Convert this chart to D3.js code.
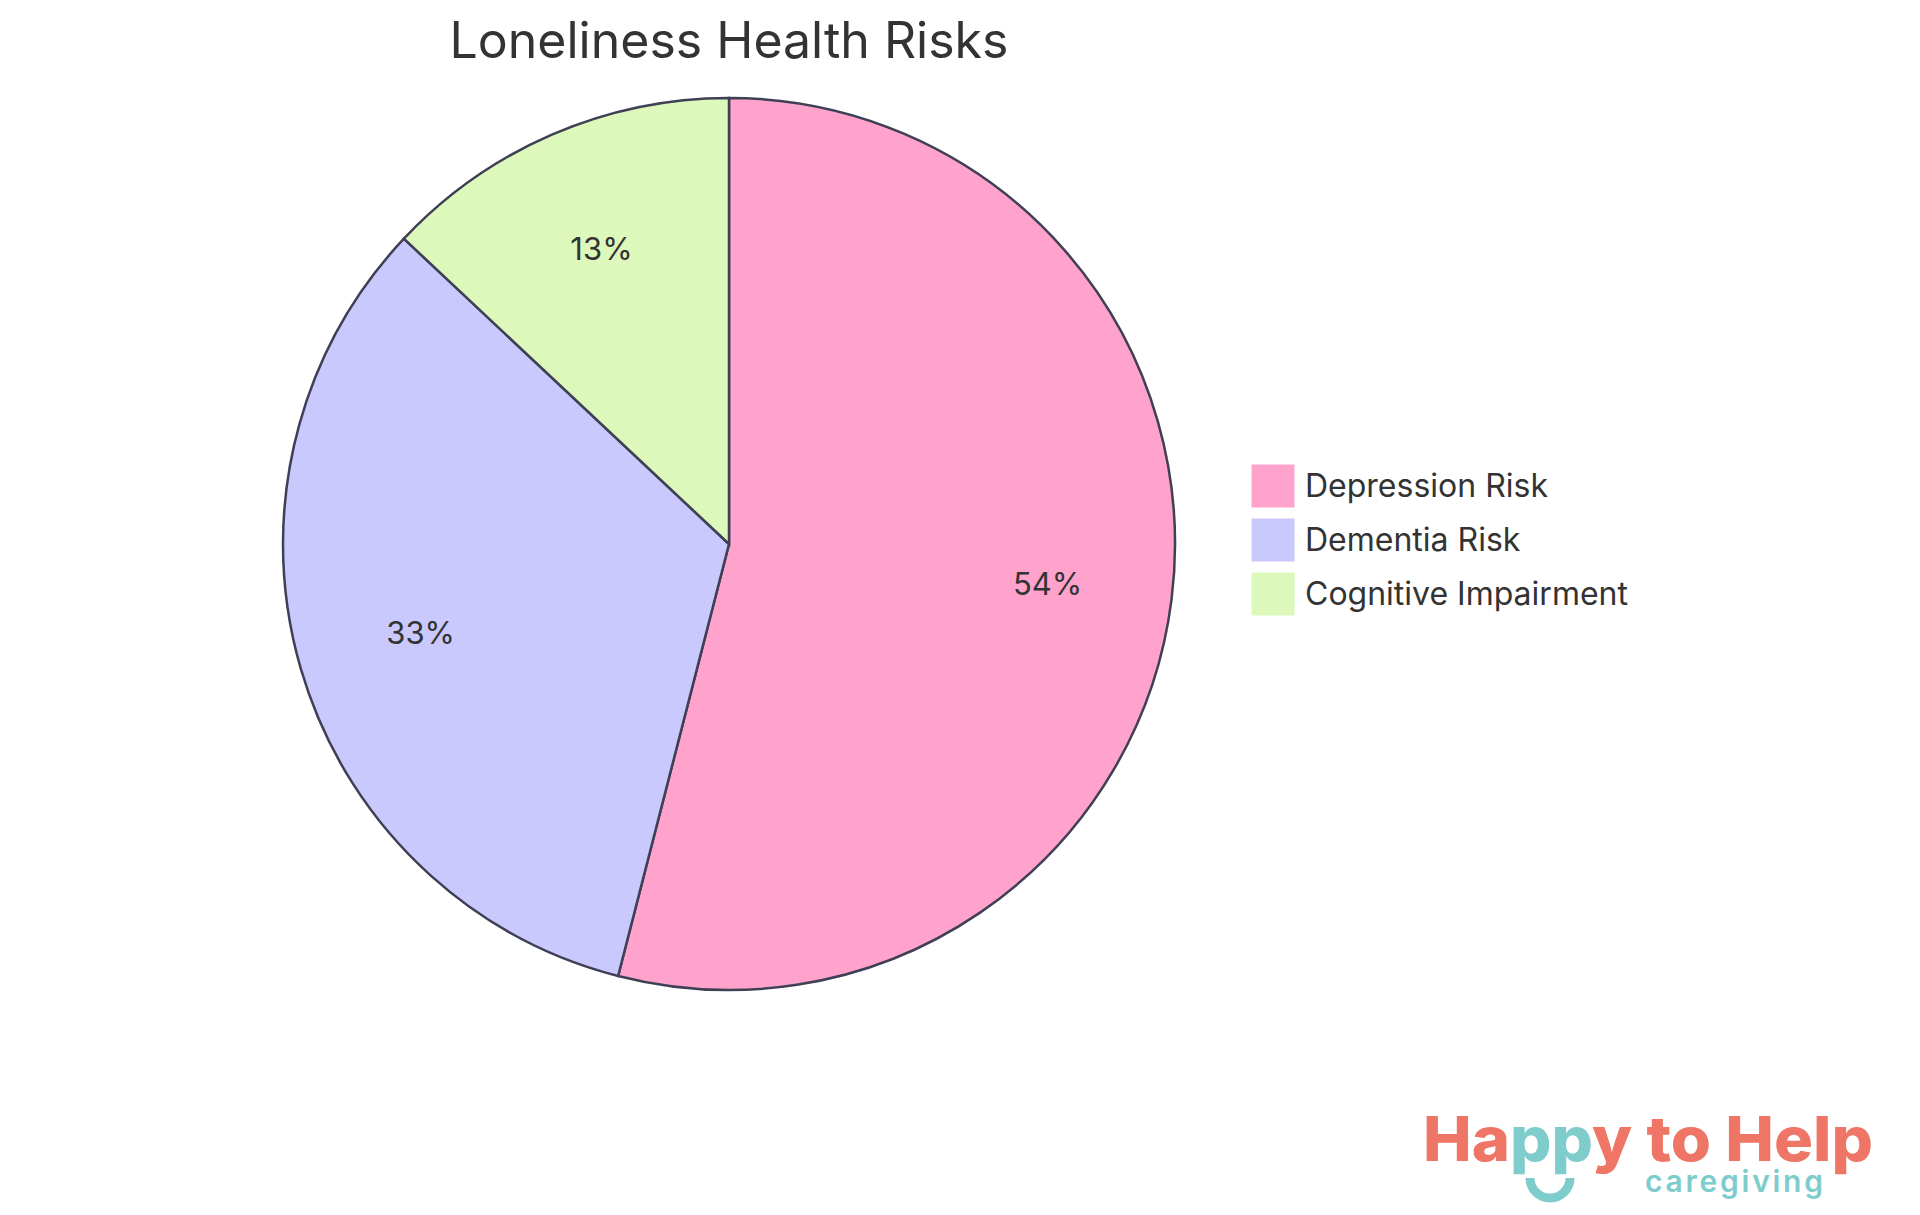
<!DOCTYPE html>
<html><head><meta charset="utf-8">
<script src="https://cdn.jsdelivr.net/npm/d3@7"></script>
<style>body{margin:0;background:#fff;}</style>
</head><body>
<script>
const width = 1920, height = 1215;
const categories = ["Depression Risk", "Dementia Risk", "Cognitive Impairment"];
const values = [54, 33, 13];
const colors = ["#ffa3cd", "#c9c9fe", "#dcf9bb"];

const svg = d3.select("body").append("svg")
    .attr("width", width).attr("height", height)
    .style("font-family", "Inter, 'Open Sans', sans-serif");

// タイトル
svg.append("text").attr("x", 729).attr("y", 58)
    .attr("text-anchor", "middle").attr("font-size", 50).attr("fill", "#333")
    .text("Loneliness Health Risks");

const r = 446;
const g = svg.append("g").attr("transform", "translate(729,544)");
const pie = d3.pie().sort(null).value(d => d);
const arc = d3.arc().innerRadius(0).outerRadius(r);
const labelArc = d3.arc().innerRadius(r * 0.72).outerRadius(r * 0.72);
const arcs = pie(values);

g.selectAll("path").data(arcs).enter().append("path")
    .attr("d", arc)
    .attr("fill", (d, i) => colors[i])
    .attr("stroke", "#3f3f55").attr("stroke-width", 2.5);

g.selectAll("text").data(arcs).enter().append("text")
    .attr("transform", d => `translate(${labelArc.centroid(d)})`)
    .attr("text-anchor", "middle").attr("dy", "0.35em")
    .attr("font-size", 31).attr("fill", "#333")
    .text(d => Math.round(d.data) + "%");

// 凡例
const legend = svg.selectAll(".legend").data(categories).enter().append("g")
    .attr("transform", (d, i) => `translate(1251,${464 + i * 54})`);
legend.append("rect").attr("width", 44).attr("height", 44)
    .attr("fill", (d, i) => colors[i]).attr("stroke", "#fff").attr("stroke-width", 1);
legend.append("text").attr("x", 54).attr("y", 22).attr("dy", "0.35em")
    .attr("font-size", 32).attr("fill", "#333").text(d => d);

// ロゴ
const logo = svg.append("g").style("font-family", "Inter, sans-serif");
const t = logo.append("text").attr("x", 1423).attr("y", 1161)
    .attr("font-size", 62).attr("font-weight", 800).attr("fill", "#ef7566")
    .attr("textLength", 450).attr("lengthAdjust", "spacingAndGlyphs");
t.append("tspan").text("Ha");
t.append("tspan").attr("fill", "#7ecccb").text("pp");
t.append("tspan").text("y to Help");
logo.append("path").attr("d", "M1530,1178 A 20 20 0 0 0 1570,1178")
    .attr("fill", "none").attr("stroke", "#7ecccb").attr("stroke-width", 9);
logo.append("text").attr("x", 1645).attr("y", 1192)
    .attr("font-size", 30).attr("font-weight", 600).attr("fill", "#7ecccb")
    .attr("textLength", 178).attr("lengthAdjust", "spacing")
    .text("caregiving");
</script>
</body></html>
